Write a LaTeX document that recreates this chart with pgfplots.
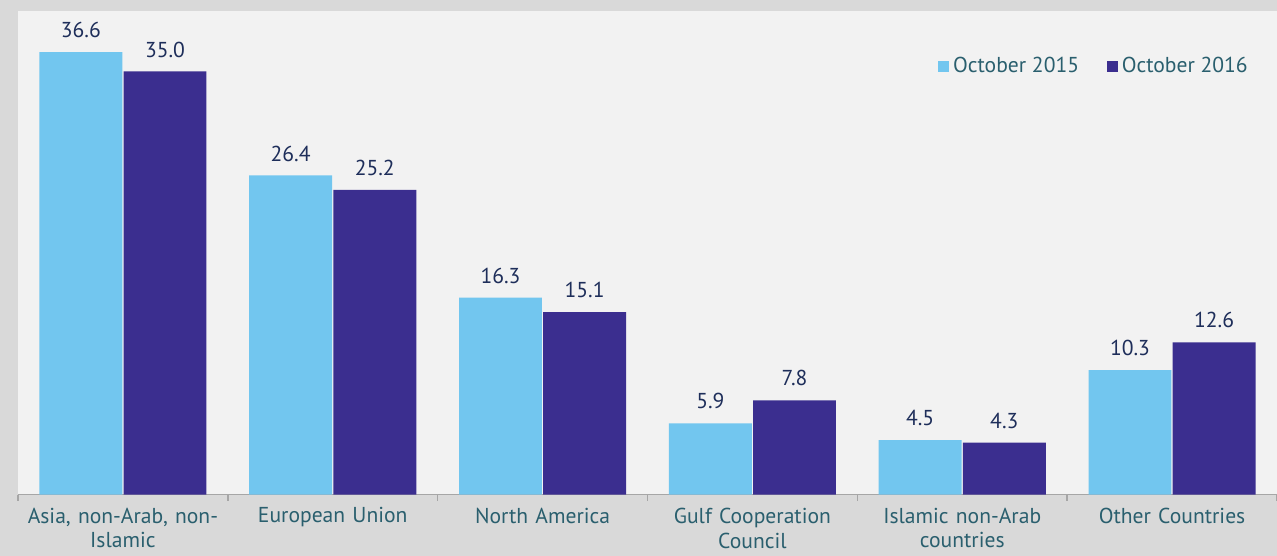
\documentclass[border=0pt]{standalone}
\usepackage{pgfplots}
\pgfplotsset{compat=1.18}
\usepackage{fontspec}
\setmainfont{PT Sans}
\definecolor{outerbg}{HTML}{D9D9D9}
\definecolor{innerbg}{HTML}{F2F2F2}
\definecolor{lightbar}{HTML}{72C6EF}
\definecolor{darkbar}{HTML}{3B2E8F}
\definecolor{labelc}{HTML}{2A5F6E}
\definecolor{numc}{HTML}{1E2E5A}

\begin{document}
\begin{tikzpicture}
\path[use as bounding box, fill=outerbg] (-9pt,-30.5pt) rectangle (630pt,247.5pt);
\begin{axis}[
at={(0,0)}, anchor=south west,
scale only axis,
width=630pt, height=242pt,
ybar=0.6pt, bar width=41.5pt,
xmin=-0.5, xmax=5.5, ymin=0, ymax=40,
axis background/.style={fill=innerbg},
axis x line*=bottom, axis y line=none,
axis line style={draw=black!35, line width=0.8pt},
xtick={0,...,5},
xticklabels={{Asia, non-Arab, non-\\Islamic},{European Union},{North America},{Gulf Cooperation\\Council},{Islamic non-Arab\\countries},{Other Countries}},
major tick length=0pt,
minor xtick={-0.5,0.5,...,5.5},
minor tick length=3pt,
tick align=outside,
minor tick style={draw=black!35, line width=0.8pt},
xticklabel style={text width=110pt, align=center, font=\fontsize{10.8}{12.5}\selectfont, text=labelc, yshift=-3pt},
/pgf/number format/assume math mode=true,
nodes near coords={\pgfmathprintnumber[fixed,fixed zerofill,precision=1]{\pgfplotspointmeta}},
every node near coord/.append style={font=\fontsize{10.8}{12.5}\selectfont, text=numc, yshift=3.5pt},
legend style={draw=none, fill=none, at={(0.985,0.886)}, anchor=east, legend columns=2, font=\fontsize{10.8}{12.5}\selectfont, text=labelc, /tikz/every even column/.append style={column sep=12pt}},
legend image code/.code={\fill[#1] (0pt,-2.7pt) rectangle (5.4pt,2.7pt);},
]
\addplot[fill=lightbar, draw=none] coordinates {(0,36.6) (1,26.4) (2,16.3) (3,5.9) (4,4.5) (5,10.3)};
\addplot[fill=darkbar, draw=none] coordinates {(0,35.0) (1,25.2) (2,15.1) (3,7.8) (4,4.3) (5,12.6)};
\legend{October 2015, October 2016}
\end{axis}
\end{tikzpicture}
\end{document}
